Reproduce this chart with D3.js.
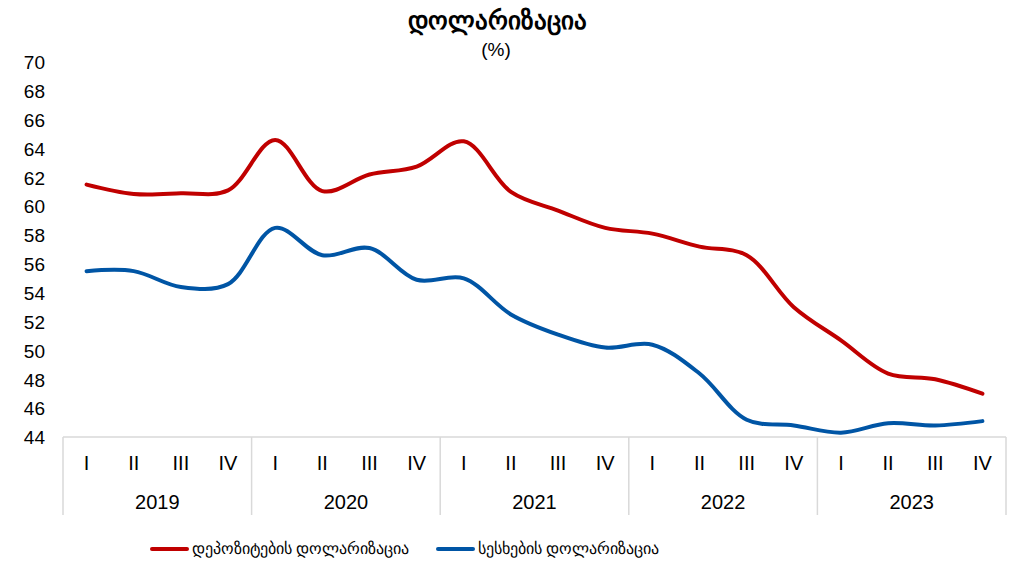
<!DOCTYPE html>
<html>
<head>
<meta charset="utf-8">
<script src="https://cdn.jsdelivr.net/npm/d3@7"></script>
<style>
  body { margin: 0; background: #fff; }
  text { font-family: "Liberation Sans", Arial, sans-serif; fill: #000; }
</style>
</head>
<body>
<div id="chart"></div>
<script>
// data
var years = ["2019", "2020", "2021", "2022", "2023"];
var quarters = ["I", "II", "III", "IV"];
var depositDollarization = [61.5, 60.85, 60.9, 61.1, 64.6, 61.05, 62.2, 62.75, 64.5, 61.0, 59.7, 58.5, 58.1, 57.2, 56.6, 53.0, 50.7, 48.4, 48.0, 47.0];
var loanDollarization = [55.5, 55.5, 54.4, 54.6, 58.5, 56.6, 57.1, 54.9, 55.0, 52.5, 51.1, 50.2, 50.4, 48.4, 45.2, 44.8, 44.3, 44.95, 44.8, 45.1];
var yTicks = d3.range(44, 71, 2);
var seriesNames = ["დეპოზიტების დოლარიზაცია", "სესხების დოლარიზაცია"];
var seriesColors = ["#c00000", "#0055a5"];

var W = 1023, H = 573;
var margin = { top: 62, right: 17, bottom: 136, left: 63 };
var width = W - margin.left - margin.right,
    height = H - margin.top - margin.bottom;

var svg = d3.select("#chart").append("svg")
  .attr("width", W)
  .attr("height", H);

// title
svg.append("text")
  .attr("x", 497).attr("y", 29)
  .attr("text-anchor", "middle")
  .style("font-size", "25px")
  .style("font-weight", "bold")
  .text("დოლარიზაცია");
svg.append("text")
  .attr("x", 496).attr("y", 56)
  .attr("text-anchor", "middle")
  .style("font-size", "19px")
  .text("(%)");

var g = svg.append("g")
  .attr("transform", `translate(${margin.left},${margin.top})`);

var keys = [];
years.forEach(function (y) { quarters.forEach(function (q) { keys.push(y + "-" + q); }); });

var x = d3.scaleBand().domain(keys).range([0, width]);
var xYear = d3.scaleBand().domain(years).range([0, width]);
var y = d3.scaleLinear().domain([44, 70]).range([height, 0]);

// y axis labels
g.append("g").selectAll("text")
  .data(yTicks)
  .join("text")
  .attr("x", -18)
  .attr("y", function (d) { return y(d); })
  .attr("dy", "0.38em")
  .attr("text-anchor", "end")
  .style("font-size", "19px")
  .text(function (d) { return d; });

// x axis frame
var axisColor = "#d9d9d9";
g.append("line")
  .attr("x1", 0).attr("x2", width)
  .attr("y1", height).attr("y2", height)
  .attr("stroke", axisColor).attr("stroke-width", 1.5);

g.append("g").selectAll("line")
  .data(years.concat(["end"]))
  .join("line")
  .attr("x1", function (d) { return d === "end" ? width : xYear(d); })
  .attr("x2", function (d) { return d === "end" ? width : xYear(d); })
  .attr("y1", height).attr("y2", height + 78)
  .attr("stroke", axisColor).attr("stroke-width", 1.5);

g.append("g").selectAll("text")
  .data(keys)
  .join("text")
  .attr("x", function (d) { return x(d) + x.bandwidth() / 2; })
  .attr("y", height + 33)
  .attr("text-anchor", "middle")
  .style("font-size", "20px")
  .text(function (d) { return d.split("-")[1]; });

g.append("g").selectAll("text")
  .data(years)
  .join("text")
  .attr("x", function (d) { return xYear(d) + xYear.bandwidth() / 2; })
  .attr("y", height + 72)
  .attr("text-anchor", "middle")
  .style("font-size", "20px")
  .text(function (d) { return d; });

// lines
var line = d3.line()
  .x(function (d, i) { return x(keys[i]) + x.bandwidth() / 2; })
  .y(function (d) { return y(d); })
  .curve(d3.curveCatmullRom.alpha(0.5));

[depositDollarization, loanDollarization].forEach(function (s, i) {
  g.append("path")
    .attr("d", line(s))
    .attr("fill", "none")
    .attr("stroke", seriesColors[i])
    .attr("stroke-width", 4)
    .attr("stroke-linecap", "round");
});

// legend
var legendX = [152, 438];
var legend = svg.append("g").selectAll("g")
  .data(seriesNames)
  .join("g")
  .attr("transform", function (d, i) { return `translate(${legendX[i]},549)`; });
legend.append("line")
  .attr("x1", 0).attr("x2", 35)
  .attr("stroke", function (d, i) { return seriesColors[i]; })
  .attr("stroke-width", 4)
  .attr("stroke-linecap", "round");
legend.append("text")
  .attr("x", 40)
  .attr("dy", "0.35em")
  .style("font-size", "15.5px")
  .text(function (d) { return d; });
</script>
</body>
</html>
